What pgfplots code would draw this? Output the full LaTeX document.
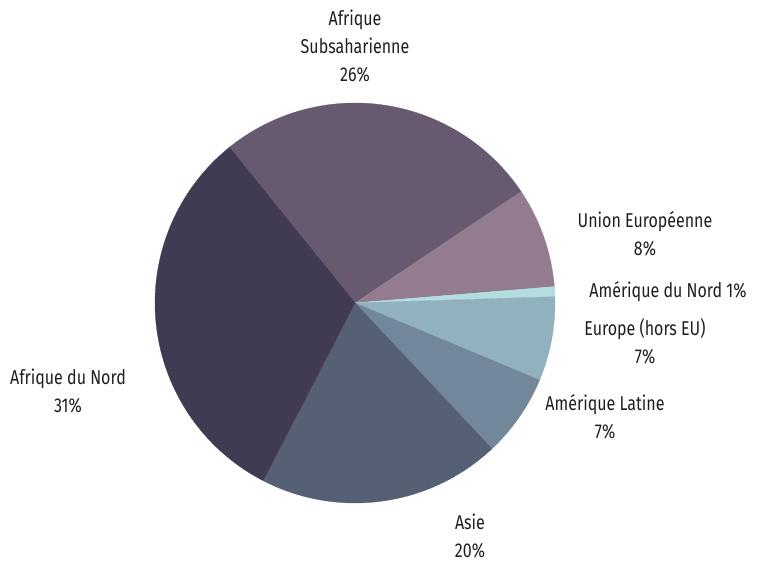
\documentclass[border=0pt]{standalone}
\usepackage{pgfplots}
\pgfplotsset{compat=1.18}
\usepackage{fontspec}
\setmainfont{Fira Sans}[FakeStretch=0.8]
\definecolor{cSub}{HTML}{67596F}
\definecolor{cUE}{HTML}{937C8F}
\definecolor{cAmN}{HTML}{B3DDE0}
\definecolor{cEur}{HTML}{92B1BE}
\definecolor{cAmL}{HTML}{728799}
\definecolor{cAsie}{HTML}{566075}
\definecolor{cAfN}{HTML}{403A52}
\definecolor{ctext}{HTML}{1E1E1E}
\begin{document}
\begin{tikzpicture}
% shares (percent)
\def\vSub{26.4}\def\vUE{8.1}\def\vAmN{0.8}\def\vEur{6.8}\def\vAmL{6.7}\def\vAsie{19.6}\def\vAfN{31.6}
\pgfmathsetmacro{\aA}{128.9}
\pgfmathsetmacro{\aB}{\aA-3.6*\vSub}
\pgfmathsetmacro{\aC}{\aB-3.6*\vUE}
\pgfmathsetmacro{\aD}{\aC-3.6*\vAmN}
\pgfmathsetmacro{\aE}{\aD-3.6*\vEur}
\pgfmathsetmacro{\aF}{\aE-3.6*\vAmL}
\pgfmathsetmacro{\aG}{\aF-3.6*\vAsie}
\pgfmathsetmacro{\aH}{\aG-3.6*\vAfN}
\begin{axis}[
  scale only axis, width=760pt, height=562pt,
  xmin=0, xmax=760, ymin=0, ymax=562,
  hide axis, clip=false,
  every axis plot/.append style={no markers, samples=90, line width=0.3pt},
  nodes={font=\fontsize{20}{28}\selectfont, text=ctext, align=center, inner sep=0pt},
]
\path (axis cs:0,0) rectangle (axis cs:760,562);
\addplot[fill=cSub, draw=cSub, domain=\aB:\aA] ({355+200*cos(x)},{259+200*sin(x)}) -- (axis cs:355,259) -- cycle;
\addplot[fill=cUE, draw=cUE, domain=\aC:\aB] ({355+200*cos(x)},{259+200*sin(x)}) -- (axis cs:355,259) -- cycle;
\addplot[fill=cAmN, draw=cAmN, domain=\aD:\aC, samples=10] ({355+200*cos(x)},{259+200*sin(x)}) -- (axis cs:355,259) -- cycle;
\addplot[fill=cEur, draw=cEur, domain=\aE:\aD] ({355+200*cos(x)},{259+200*sin(x)}) -- (axis cs:355,259) -- cycle;
\addplot[fill=cAmL, draw=cAmL, domain=\aF:\aE] ({355+200*cos(x)},{259+200*sin(x)}) -- (axis cs:355,259) -- cycle;
\addplot[fill=cAsie, draw=cAsie, domain=\aG:\aF] ({355+200*cos(x)},{259+200*sin(x)}) -- (axis cs:355,259) -- cycle;
\addplot[fill=cAfN, draw=cAfN, domain=\aH:\aG] ({355+200*cos(x)},{259+200*sin(x)}) -- (axis cs:355,259) -- cycle;

\node at (axis cs:355,516) {Afrique\\Subsaharienne\\26\%};
\node at (axis cs:645,328.5) {Union Européenne\\8\%};
\node at (axis cs:668,270) {Amérique du Nord 1\%};
\node at (axis cs:645,221) {Europe (hors EU)\\7\%};
\node at (axis cs:605,145) {Amérique Latine\\7\%};
\node at (axis cs:470,26) {Asie\\20\%};
\node at (axis cs:68,171) {Afrique du Nord\\31\%};
\end{axis}
\end{tikzpicture}
\end{document}
